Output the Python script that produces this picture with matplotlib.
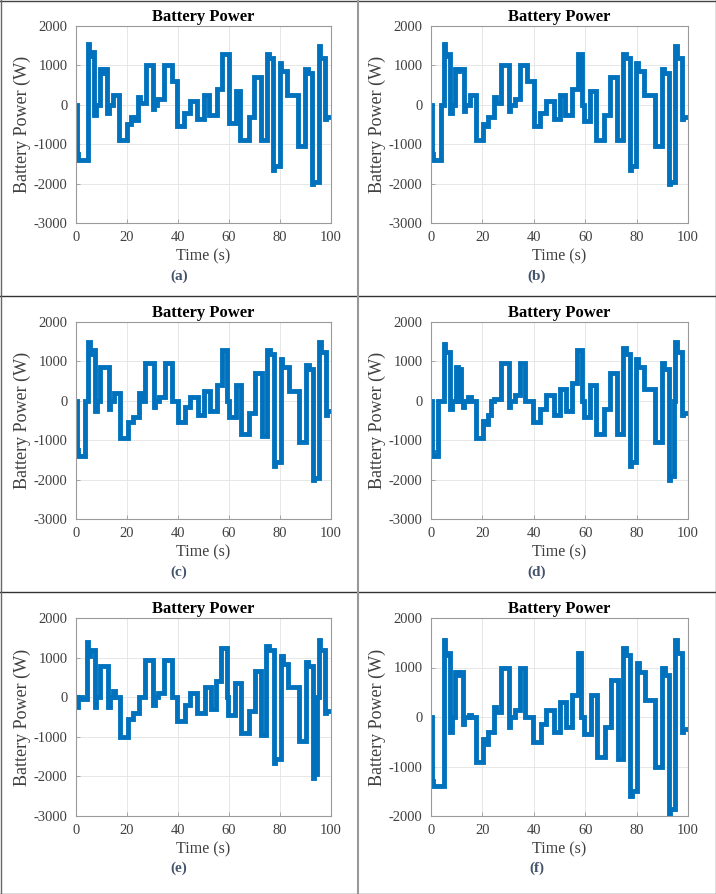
import matplotlib
matplotlib.use("Agg")
import matplotlib.pyplot as plt
from matplotlib.lines import Line2D

plt.rcParams['font.family'] = ['Liberation Serif', 'DejaVu Serif']
plt.rcParams['axes.unicode_minus'] = False  # 用普通连字符显示负号

# switch times (s) and battery power levels (W) for each case
t_a = [0, 0.3, 0.8, 4.8, 5.2, 5.6, 7.2, 7.7, 9.4, 10.6,
       11.0, 12.3, 12.8, 14.6, 17.0, 19.9, 21.7, 23.0, 24.4, 25.0,
       27.3, 30.0, 30.4, 31.8, 34.5, 37.5, 39.7, 42.3, 44.6, 47.4,
       50.0, 52.1, 55.2, 57.1, 59.9, 62.6, 64.5, 67.8, 69.9, 72.5,
       74.8, 75.8, 77.4, 77.8, 79.9, 80.5, 82.9, 87.0, 89.9, 90.8,
       92.6, 93.0, 95.2, 95.8, 97.7, 98.2, 100]
p_a = [0, -1250, -1400, 1550, 1250, 1350, -250, 0, 920, 800,
       900, -200, 0, 250, -900, -500, -300, -380, 200, 50,
       1000, -100, 0, 150, 1000, 600, -550, -200, 100, -350,
       250, -250, 400, 1300, -450, 350, -900, -300, 700, -900,
       1300, 1200, -1650, -1550, 1050, 850, 250, -1050, 900, 800,
       -2000, -1950, 1500, 1200, -350, -300, -300]

t_b = [0, 0.3, 0.9, 3.9, 4.9, 5.3, 5.8, 7.4, 8.0, 9.5,
       10.6, 11.0, 12.7, 13.4, 15.2, 17.5, 20.1, 21.0, 22.3, 24.7,
       25.3, 27.3, 30.2, 30.8, 32.5, 34.7, 37.3, 39.9, 42.5, 44.8,
       47.7, 50.0, 52.3, 54.8, 57.1, 58.8, 59.5, 62.0, 64.3, 67.5,
       69.8, 72.5, 74.7, 76.0, 77.3, 77.8, 79.9, 80.6, 82.9, 87.0,
       89.9, 90.6, 92.6, 93.0, 95.1, 95.8, 97.6, 98.0, 100]
p_b = [0, -1250, -1400, 0, 1550, 1250, 1300, -200, 0, 900,
       850, 900, -150, 0, 250, -900, -500, -550, -300, 200,
       50, 1000, -150, 0, 150, 1000, 600, -550, -200, 100,
       -350, 250, -250, 400, 1300, 0, -400, 350, -900, -250,
       700, -900, 1300, 1200, -1650, -1550, 1050, 850, 250, -1050,
       900, 800, -2000, -1950, 1500, 1200, -350, -300, -300]

t_c = [0, 0.3, 0.7, 3.5, 4.8, 5.3, 6.2, 7.6, 8.2, 9.6,
       12.8, 13.4, 14.8, 17.2, 20.2, 22.2, 24.8, 25.6, 27.2, 30.4,
       31.0, 32.6, 34.8, 37.7, 40.0, 42.6, 44.8, 47.8, 50.2, 52.4,
       55.4, 57.1, 59.2, 60.0, 62.6, 64.6, 67.8, 70.0, 73.0, 75.0,
       76.0, 77.6, 78.2, 80.2, 80.9, 83.4, 87.6, 90.2, 91.2, 92.8,
       93.3, 95.4, 96.2, 98.0, 98.5, 100]
p_c = [0, -1250, -1400, 0, 1500, 1200, 1300, -250, 0, 850,
       -200, 0, 200, -950, -550, -400, 200, 0, 950, -150,
       0, 100, 950, 0, -550, -150, 100, -350, 250, -250,
       400, 1300, 0, -400, 400, -850, -300, 700, -900, 1300,
       1200, -1650, -1550, 1050, 850, 250, -1050, 900, 800, -2000,
       -1950, 1500, 1250, -350, -250, -250]

t_d = [0, 0.3, 0.9, 2.8, 4.9, 5.4, 7.3, 8.0, 9.7, 10.5,
       10.9, 11.8, 12.5, 13.0, 14.5, 15.7, 17.5, 20.1, 21.0, 22.0,
       23.4, 24.7, 27.3, 30.3, 30.9, 32.5, 34.7, 36.7, 39.8, 42.6,
       44.8, 47.7, 50.0, 52.4, 54.8, 57.0, 58.6, 59.6, 62.0, 64.3,
       67.5, 69.8, 72.5, 74.7, 76.0, 77.3, 77.9, 79.9, 80.6, 83.0,
       87.0, 89.9, 90.6, 92.6, 93.0, 94.6, 95.1, 95.7, 97.6, 98.0,
       100]
p_d = [0, -1300, -1400, 0, 1450, 1250, -200, 0, 850, 0,
       800, 0, -150, 0, 100, 0, -950, -500, -600, -350,
       0, 50, 950, -150, 0, 150, 950, 0, -550, -200,
       150, -350, 300, -250, 450, 1300, 0, -400, 400, -850,
       -200, 700, -850, 1350, 1200, -1650, -1550, 1050, 850, 300,
       -1050, 950, 800, -2000, -1900, 0, 1500, 1250, -350, -300,
       -300]

t_e = [0, 0.4, 0.9, 2.2, 4.5, 4.9, 5.6, 7.4, 8.0, 9.6,
       12.6, 13.2, 14.6, 15.3, 17.2, 20.2, 22.3, 24.8, 27.0, 30.2,
       30.8, 32.2, 34.4, 37.6, 39.8, 42.6, 44.6, 47.6, 50.4, 52.8,
       55.0, 57.0, 59.4, 59.8, 62.4, 64.7, 68.0, 70.0, 72.6, 74.6,
       75.6, 77.6, 78.2, 80.4, 81.0, 83.3, 87.6, 90.0, 91.0, 92.8,
       93.2, 94.4, 95.1, 95.8, 97.8, 98.2, 100]
p_e = [0, -250, 0, -50, 1400, 1050, 1200, -250, 0, 800,
       -250, 0, 150, 0, -1000, -550, -400, 0, 950, -200,
       0, 100, 950, 0, -600, -200, 100, -400, 250, -300,
       400, 1250, 0, -450, 350, -900, -350, 650, -950, 1300,
       1200, -1650, -1550, 1050, 850, 250, -1100, 900, 800, -2050,
       -1950, 0, 1450, 1200, -400, -350, -350]

t_f = [0, 0.3, 0.9, 4.9, 5.3, 6.0, 7.4, 8.1, 9.5, 10.6,
       11.0, 12.4, 13.0, 14.6, 15.6, 17.6, 20.2, 21.4, 22.1, 24.7,
       25.3, 27.1, 30.2, 30.9, 32.5, 34.5, 36.5, 39.6, 42.7, 44.9,
       47.8, 50.1, 52.6, 54.9, 57.1, 58.3, 59.5, 62.2, 64.5, 67.7,
       69.9, 72.7, 74.9, 76.0, 77.5, 78.1, 80.0, 80.9, 83.3, 87.2,
       90.0, 90.9, 92.5, 93.0, 95.0, 95.6, 97.6, 98.1, 100]
p_f = [0, -1300, -1400, 1550, 1250, 1300, -300, 0, 900, 850,
       900, -150, 0, 50, 0, -900, -450, -550, -300, 200,
       100, 1000, -200, 0, 150, 1000, 0, -500, -150, 150,
       -300, 300, -200, 450, 1300, 0, -350, 450, -800, -200,
       750, -850, 1400, 1250, -1600, -1500, 1100, 900, 350, -1000,
       1000, 850, -2000, -1850, 1550, 1300, -300, -250, -250]

captions = ['(a)', '(b)', '(c)', '(d)', '(e)', '(f)']
x_ticks = [0, 20, 40, 60, 80, 100]
y_ticks = [-3000, -2000, -1000, 0, 1000, 2000]
y_ticks_f = [-2000, -1000, 0, 1000, 2000]

series = [(t_a, p_a), (t_b, p_b), (t_c, p_c), (t_d, p_d), (t_e, p_e), (t_f, p_f)]

W, H = 716, 894
fig = plt.figure(figsize=(W / 100, H / 100), dpi=100)

# axes boxes in pixels: (left, right) and (top, bottom)
col_x = [(76, 331), (431, 688)]
row_y = [(26, 223), (322, 519), (618, 816)]

for i, (t, p) in enumerate(series):
    r, c = divmod(i, 2)
    x0, x1 = col_x[c]
    y0, y1 = row_y[r]
    ax = fig.add_axes([x0 / W, 1 - y1 / H, (x1 - x0) / W, (y1 - y0) / H])
    ax.step(t, p, where='post', color='#0072BD', lw=3.5, solid_joinstyle='miter')
    ax.set_xlim(0, 100)
    ax.set_xticks(x_ticks)
    if i == 5:
        ax.set_ylim(-2000, 2000)
        ax.set_yticks(y_ticks_f)
    else:
        ax.set_ylim(-3000, 2000)
        ax.set_yticks(y_ticks)
    ax.grid(True, color='#e3e3e3', lw=0.6)
    ax.set_axisbelow(True)
    for s in ax.spines.values():
        s.set_color('#9a9a9a')
        s.set_linewidth(0.8)
    ax.tick_params(direction='in', length=3, width=0.6, color='#9a9a9a',
                   labelsize=10.5, labelcolor='#404040', pad=6)
    ax.set_title('Battery Power', fontsize=12, fontweight='bold', pad=3.5)
    ax.set_xlabel('Time (s)', fontsize=11.5, color='#404040', va='top')
    ax.xaxis.set_label_coords(0.5, -0.13)
    ax.set_ylabel('Battery Power (W)', fontsize=13, color='#404040')
    ax.yaxis.set_label_coords(-0.176, 0.5)

    cx = (179 if c == 0 else 537) / W
    cy = 1 - (276 + 296 * r) / H
    fig.text(cx, cy, captions[i], ha='center', va='center', fontsize=11,
             fontweight='bold', color='#44546A')

# table borders
def hline(y, color, lw):
    fig.add_artist(Line2D([0, 1], [1 - y / H] * 2, color=color, lw=lw))

def vline(x, color, lw):
    fig.add_artist(Line2D([x / W] * 2, [0, 1], color=color, lw=lw))

hline(0.5, '#444444', 1)
hline(H - 0.5, '#444444', 1)
hline(296, '#333333', 1)
hline(592, '#333333', 1)
vline(0.5, '#666666', 1)
vline(W - 0.5, '#666666', 1)
vline(358, '#999999', 1.5)

fig.savefig('out.png', dpi=100)
